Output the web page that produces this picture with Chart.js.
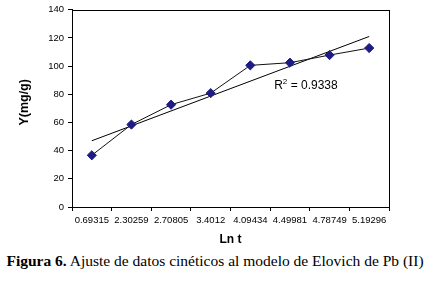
<!DOCTYPE html>
<html>
<head>
<meta charset="utf-8">
<script src="https://cdn.jsdelivr.net/npm/chart.js@4"></script>
<style>
  body { margin: 0; background: #fff; }
  #wrap { position: relative; width: 430px; height: 281px; }
  #caption {
    position: absolute; left: 0; top: 252px; width: 430px; text-align: center;
    font-family: "Liberation Serif", "Times New Roman", serif; font-size: 15.5px; color: #000;
    white-space: nowrap;
  }
</style>
</head>
<body>
<div id="wrap">
  <canvas id="elovich-chart" width="430" height="250"></canvas>
  <div id="caption"><b>Figura 6.</b> Ajuste de datos cinéticos al modelo de Elovich de Pb (II)</div>
</div>
<script>
var lnTLabels = ["0.69315", "2.30259", "2.70805", "3.4012", "4.09434", "4.49981", "4.78749", "5.19296"];
var qValues = [36.7, 58.5, 72.6, 80.8, 100.5, 102.4, 107.8, 112.8];
// trend line read at the first and last category, gaps in between
var trendValues = [47, null, null, null, null, null, null, 121];
var r2Text = "0.9338";
var yTitle = "Y(mg/g)";

var axisFont = "'Liberation Sans', Arial, sans-serif";

// frame round the plot area, y title and the R² label
var framePlugin = {
  id: "frame",
  afterDatasetsDraw: function (chart) {
    var ctx = chart.ctx;
    var a = chart.chartArea;
    ctx.save();
    ctx.strokeStyle = "#000";
    ctx.lineWidth = 1;
    ctx.strokeRect(Math.round(a.left) + 0.5, Math.round(a.top) + 0.5,
      Math.round(a.right - a.left), Math.round(a.bottom - a.top));

    // y title, a bit above the middle like the original
    ctx.save();
    ctx.translate(25, (a.top + a.bottom) / 2 - 6);
    ctx.rotate(-Math.PI / 2);
    ctx.font = "bold 12.5px " + axisFont;
    ctx.fillStyle = "#000";
    ctx.textAlign = "center";
    ctx.textBaseline = "middle";
    ctx.fillText(yTitle, 0, 0);
    ctx.restore();

    var x = chart.scales.x.getPixelForValue(5) + 16;
    var y = chart.scales.y.getPixelForValue(86);
    ctx.fillStyle = "#000";
    ctx.textBaseline = "middle";
    ctx.font = "12px " + axisFont;
    var rest = " = " + r2Text;
    var wR = ctx.measureText("R").width;
    ctx.font = "8px " + axisFont;
    var w2 = ctx.measureText("2").width;
    ctx.font = "12px " + axisFont;
    var wRest = ctx.measureText(rest).width;
    var start = x - (wR + w2 + wRest) / 2;
    ctx.textAlign = "left";
    ctx.fillText("R", start, y);
    ctx.font = "8px " + axisFont;
    ctx.fillText("2", start + wR, y - 4);
    ctx.font = "12px " + axisFont;
    ctx.fillText(rest, start + wR + w2, y);
    ctx.restore();
  }
};

var ctx = document.getElementById("elovich-chart");
new Chart(ctx, {
  type: "line",
  data: {
    labels: lnTLabels,
    datasets: [
      {
        label: "Y",
        data: qValues,
        borderColor: "#111",
        borderWidth: 1,
        pointStyle: "rectRot",
        pointRadius: 4.6,
        pointBackgroundColor: "#1c1c84",
        pointBorderColor: "#1c1c84",
        pointBorderWidth: 1,
        tension: 0,
      },
      {
        label: "Trend",
        data: trendValues,
        borderColor: "#000",
        borderWidth: 1,
        pointRadius: 0,
        spanGaps: true,
        tension: 0,
      },
    ],
  },
  options: {
    responsive: false,
    animation: false,
    devicePixelRatio: 1,
    layout: { padding: { top: 6, right: 41, left: 0, bottom: 0 } },
    plugins: {
      legend: { display: false },
      tooltip: { enabled: false },
    },
    scales: {
      x: {
        type: "category",
        offset: true,
        afterFit: function (scale) { scale.height = 43; },
        grid: {
          offset: true,
          drawOnChartArea: false,
          drawTicks: true,
          tickLength: 4,
          color: "#000",
        },
        border: { display: true, color: "#000" },
        ticks: {
          color: "#000",
          padding: 4,
          maxRotation: 0,
          autoSkip: false,
          font: { family: axisFont, size: 9.5 },
        },
        title: {
          display: true,
          text: "Ln t",
          color: "#000",
          padding: { top: 0, bottom: 3 },
          font: { family: axisFont, size: 12, weight: "bold" },
        },
      },
      y: {
        min: 0,
        max: 140,
        afterFit: function (scale) { scale.width = 72; },
        grid: {
          drawOnChartArea: false,
          drawTicks: true,
          tickLength: 4,
          color: "#000",
        },
        border: { display: true, color: "#000" },
        ticks: {
          stepSize: 20,
          color: "#000",
          padding: 4,
          font: { family: axisFont, size: 9.5 },
        },
      },
    },
  },
  plugins: [framePlugin],
});
</script>
</body>
</html>
